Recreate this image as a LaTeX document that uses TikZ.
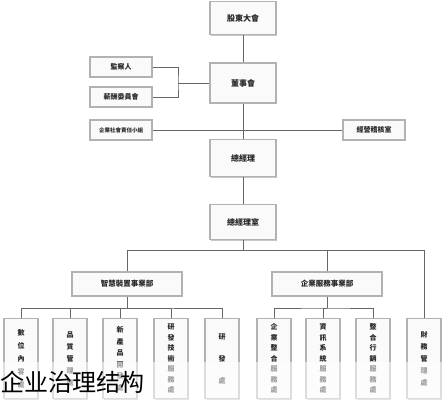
\documentclass[tikz,border=0pt]{standalone}
\usepackage{fontspec}
\newfontfamily\tcfont{Noto Sans CJK TC}
\newfontfamily\scfont{Noto Sans CJK SC}
\usetikzlibrary{shadows}
\tikzset{
  box/.style={draw=gray!60, line width=1.2pt, fill=gray!4, inner sep=0pt,
    drop shadow={shadow xshift=1.3pt, shadow yshift=-1.3pt, fill=gray!55, opacity=0.8},
    text=black!85, align=center},
  bigbox/.style={box, minimum width=66, font=\tcfont\bfseries\fontsize{8}{9}\selectfont},
  smallbox/.style={box, minimum width=62, minimum height=20, font=\tcfont\bfseries\fontsize{7}{8}\selectfont},
  bubox/.style={box, minimum width=110, minimum height=24, font=\tcfont\bfseries\fontsize{7.5}{9}\selectfont},
  vbox/.style={box, minimum width=34, minimum height=80, anchor=north},
  conn/.style={draw=black!60, line width=0.7pt},
}
\begin{document}
\begin{tikzpicture}[x=1pt,y=-1pt]
\useasboundingbox[fill=white] (0,0) rectangle (442,400);
% top column
\node[bigbox, minimum height=33] (gd) at (243,18) {股東大會};
\node[bigbox, minimum height=40] (bd) at (243,83) {董事會};
\node[smallbox] (sup) at (121,67) {監察人};
\node[smallbox] (pay) at (121,97) {薪酬委員會};
\node[smallbox, font=\tcfont\bfseries\fontsize{5.5}{6}\selectfont] (csr) at (121,130) {企業社會責任小組};
\node[smallbox] (aud) at (374,130) {經營稽核室};
\node[bigbox, minimum height=37] (gm) at (243,158) {總經理};
\node[bigbox, minimum height=35] (gmo) at (243,222) {總經理室};
\node[bubox] (bu1) at (127,284) {智慧裝置事業部};
\node[bubox] (bu2) at (327,284) {企業服務事業部};
% bottom units
\node[vbox, font=\tcfont\bfseries\fontsize{7}{13}\selectfont] (b1) at (21,318) {數\\位\\內\\容\\處};
\node[vbox, font=\tcfont\bfseries\fontsize{7}{12}\selectfont] (b2) at (70,318) {品\\質\\管\\理\\處};
\node[vbox, font=\tcfont\bfseries\fontsize{7}{11.5}\selectfont] (b3) at (120,318) {新\\產\\品\\開\\發\\處};
\node[vbox, font=\tcfont\bfseries\fontsize{7}{10.5}\selectfont] (b4) at (171,318) {研\\發\\技\\術\\服\\務\\處};
\node[vbox, font=\tcfont\bfseries\fontsize{7}{22}\selectfont] (b5) at (222,318) {研\\發\\處};
\node[vbox, font=\tcfont\bfseries\fontsize{7}{10.5}\selectfont] (b6) at (274,318) {企\\業\\整\\合\\服\\務\\處};
\node[vbox, font=\tcfont\bfseries\fontsize{7}{10.5}\selectfont] (b7) at (323,318) {資\\訊\\系\\統\\服\\務\\處};
\node[vbox, font=\tcfont\bfseries\fontsize{7}{10.5}\selectfont] (b8) at (373,318) {整\\合\\行\\銷\\服\\務\\處};
\node[vbox, font=\tcfont\bfseries\fontsize{7}{12}\selectfont] (b9) at (424,318) {財\\務\\管\\理\\處};
% junction coordinates
\coordinate (jb) at (178,83);
\coordinate (j1) at (243,130);
\coordinate (j2) at (243,250);
\coordinate (j2l) at (127,250);
\coordinate (j2r) at (424,250);
\coordinate (j3) at (127,308);
\coordinate (j4) at (327,308);
% connectors
\draw[conn] (gd) -- (bd);
\draw[conn] (bd) -- (gm);
\draw[conn] (sup.east) -| (jb) |- (pay.east);
\draw[conn] (jb) -- (bd.west);
\draw[conn] (csr.east) -- (j1);
\draw[conn] (aud.west) -- (j1);
\draw[conn] (gm) -- (gmo);
\draw[conn] (gmo.south) -- (j2);
\draw[conn] (j2l) -- (j2r);
\draw[conn] (j2l) -- (bu1.north);
\draw[conn] (j2) -| (bu2.north);
\draw[conn] (j2r) -- (b9.north);
\draw[conn] (bu1.south) -- (j3);
\draw[conn] (b1.north) |- (j3) -| (b5.north);
\draw[conn] (j3) -| (b2.north);
\draw[conn] (j3) -| (b3.north);
\draw[conn] (j3) -| (b4.north);
\draw[conn] (bu2.south) -- (j4);
\draw[conn] (b6.north) |- (j4) -| (b8.north);
\draw[conn] (j4) -| (b7.north);
% caption band
\fill[white, opacity=0.55] (0,362) rectangle (442,400);
\node[anchor=west, inner sep=0pt, font=\scfont\fontsize{24}{26}\selectfont, text=black] (cap) at (0,382) {企业治理结构};
\end{tikzpicture}
\end{document}
